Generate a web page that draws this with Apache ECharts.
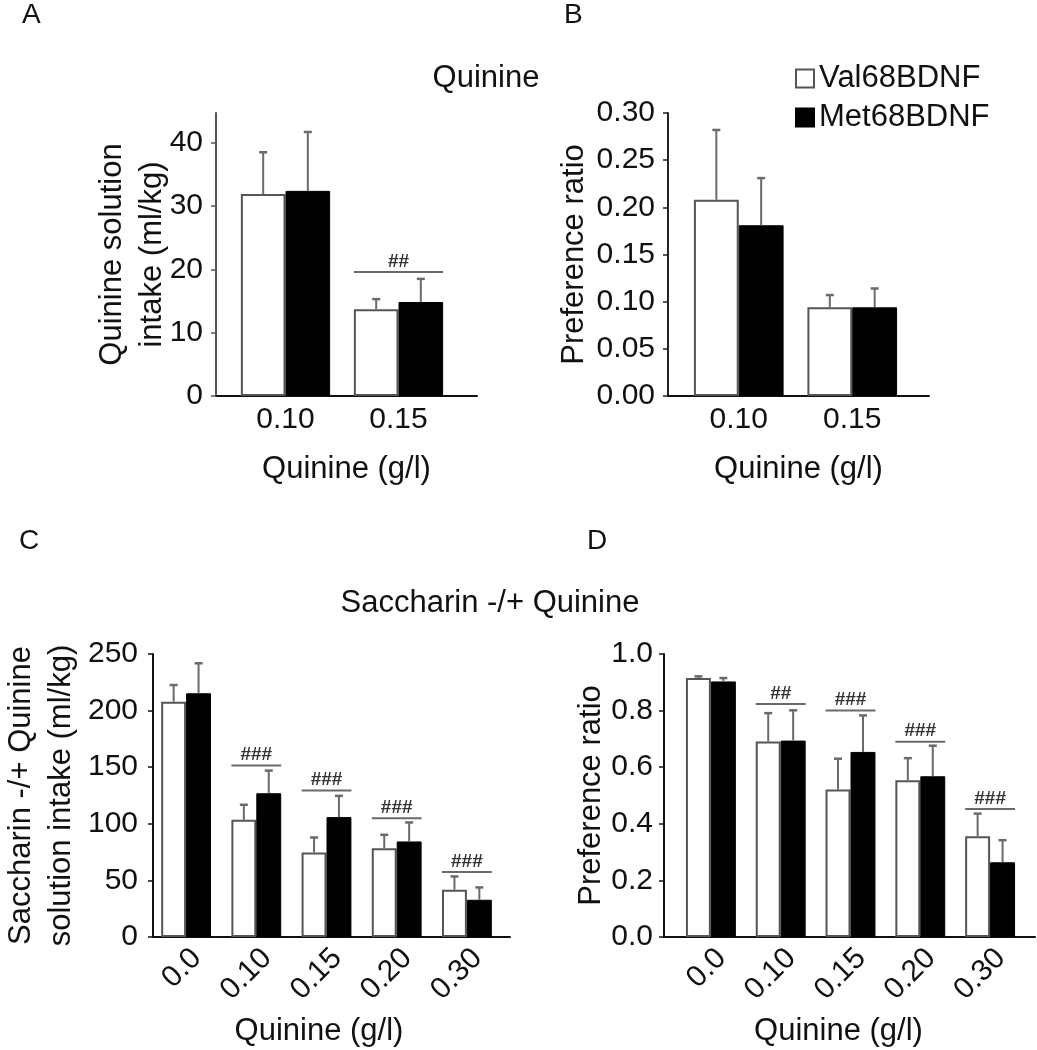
<!DOCTYPE html>
<html>
<head>
<meta charset="utf-8">
<script src="https://cdn.jsdelivr.net/npm/echarts@6/dist/echarts.min.js"></script>
<style>html,body{margin:0;padding:0;background:#fff}#c{width:1037px;height:1050px}</style>
</head>
<body>
<div id="c"></div>
<script>
// ---------- data ----------
const catsAB = ['0.10', '0.15'];
const catsCD = ['0.0', '0.10', '0.15', '0.20', '0.30'];
const seriesNames = ['Val68BDNF', 'Met68BDNF'];

// Panel A: Quinine solution intake (ml/kg)
const aVal = [31.9, 13.7];
const aValSem = [6.6, 1.6];
const aMet = [32.4, 14.85];
const aMetSem = [9.3, 3.65];
const aSigY = [[1, 19.6]];
const aSigLabels = ['##'];
const aTicks = [0, 10, 20, 30, 40];

// Panel B: Preference ratio
const bVal = [0.208, 0.094];
const bValSem = [0.074, 0.013];
const bMet = [0.181, 0.094];
const bMetSem = [0.050, 0.020];

// Panel C: Saccharin -/+ Quinine solution intake (ml/kg)
const cVal = [207.9, 103.5, 74.7, 78.5, 41.8];
const cValSem = [14.7, 13.3, 13.2, 11.8, 11.7];
const cMet = [215.3, 127.0, 105.9, 84.4, 32.9];
const cMetSem = [26.5, 20.0, 18.8, 16.8, 10.9];
const cSigY = [[1, 151.5], [2, 129.4], [3, 105.0], [4, 57.4]];
const cSigLabels = ['###', '###', '###', '###'];

// Panel D: Preference ratio
const dVal = [0.915, 0.691, 0.521, 0.554, 0.356];
const dValSem = [0.006, 0.100, 0.109, 0.078, 0.080];
const dMet = [0.903, 0.694, 0.654, 0.568, 0.264];
const dMetSem = [0.012, 0.107, 0.129, 0.108, 0.078];
const dSigY = [[1, 0.823], [2, 0.800], [3, 0.690], [4, 0.452]];
const dSigLabels = ['##', '###', '###', '###'];

// ---------- styling ----------
const FF = 'Liberation Sans, Arial, Helvetica, sans-serif';
const TXT = '#111';
const ERR = '#6a6a6a';

const chart = echarts.init(document.getElementById('c'), null, {renderer: 'canvas'});

function errRender(side, frac) {
  return function (params, api) {
    const ci = api.value(0), m = api.value(1), e = api.value(2);
    const p0 = api.coord([ci, m]);
    const p1 = api.coord([ci, m + e]);
    const band = api.size([1, 0])[0];
    const x = p0[0] + side * band * frac / 2;
    return {type: 'group', children: [
      {type: 'line', shape: {x1: x, y1: p0[1], x2: x, y2: p1[1]}, style: {stroke: ERR, lineWidth: 2}},
      {type: 'line', shape: {x1: x - 4, y1: p1[1], x2: x + 4, y2: p1[1]}, style: {stroke: ERR, lineWidth: 2.5}}
    ]};
  };
}
function sigRender(groupFrac, labels) {
  return function (params, api) {
    const ci = api.value(0), y = api.value(1);
    const p = api.coord([ci, y]);
    const band = api.size([1, 0])[0];
    const half = band * groupFrac / 2;
    return {type: 'group', children: [
      {type: 'line', shape: {x1: p[0] - half, y1: p[1], x2: p[0] + half, y2: p[1]}, style: {stroke: ERR, lineWidth: 2}},
      {type: 'text', x: p[0], y: p[1] - 1, style: {text: labels[params.dataIndex], align: 'center', verticalAlign: 'bottom', font: 'bold 19px ' + FF, fill: '#333'}}
    ]};
  };
}

// panels: frame grid + bar grid
const panels = [
  {frame: {left: 216, top: 113, width: 261, height: 283}, bars: {left: 229, width: 226}, cats: catsAB, gap: 0.21,
   min: 0, max: 44.7, interval: 10, ticks: aTicks, fmt: v => String(v),
   yName: 'Quinine solution\nintake (ml/kg)', yNameGap: 44, labelMargin: 13, axisColor: '#555',
   val: aVal, valSem: aValSem, met: aMet, metSem: aMetSem, sig: aSigY, sigLabels: aSigLabels,
   rotate: 0, xMargin: 9, xNameGap: 58, xNamePad: 0, vAlign: null},
  {frame: {left: 668, top: 113, width: 261, height: 283}, bars: {left: 682, width: 227}, cats: catsAB, gap: 0.21,
   min: 0, max: 0.30, interval: 0.05, ticks: null, fmt: v => v.toFixed(2),
   yName: 'Preference ratio', yNameGap: 74, labelMargin: 13, axisColor: '#222',
   val: bVal, valSem: bValSem, met: bMet, metSem: bMetSem, sig: [], sigLabels: [],
   rotate: 0, xMargin: 9, xNameGap: 58, xNamePad: 0, vAlign: null},
  {frame: {left: 140, top: 654, width: 370, height: 283}, bars: {left: 151, width: 351}, cats: catsCD, gap: 0.29,
   min: 0, max: 250, interval: 50, ticks: null, fmt: v => String(v),
   yName: 'Saccharin -/+ Quinine\nsolution intake (ml/kg)', yNameGap: 72, labelMargin: 15, axisColor: '#111',
   val: cVal, valSem: cValSem, met: cMet, metSem: cMetSem, sig: cSigY, sigLabels: cSigLabels,
   rotate: 45, xMargin: 6, xNameGap: 79, xNamePad: 25, vAlign: 'top'},
  {frame: {left: 664, top: 654, width: 371, height: 283}, bars: {left: 676, width: 349}, cats: catsCD, gap: 0.285,
   min: 0, max: 1.0, interval: 0.2, ticks: null, fmt: v => v.toFixed(1),
   yName: 'Preference ratio', yNameGap: 53, labelMargin: 11, axisColor: '#111',
   val: dVal, valSem: dValSem, met: dMet, metSem: dMetSem, sig: dSigY, sigLabels: dSigLabels,
   rotate: 45, xMargin: 6, xNameGap: 79, xNamePad: 22, vAlign: 'top'}
];

const grid = [], xAxis = [], yAxis = [], series = [];
panels.forEach((p, k) => {
  const gf = 2 * k, gb = 2 * k + 1;
  grid.push({left: p.frame.left, top: p.frame.top, width: p.frame.width, height: p.frame.height, containLabel: false});
  grid.push({left: p.bars.left, top: p.frame.top, width: p.bars.width, height: p.frame.height, containLabel: false});
  // frame x axis (line + name)
  xAxis.push({gridIndex: gf, type: 'value', min: 0, max: 1,
    axisLine: {show: true, lineStyle: {color: '#111', width: 2}}, axisTick: {show: false}, axisLabel: {show: false}, splitLine: {show: false},
    name: 'Quinine (g/l)', nameLocation: 'middle', nameGap: p.xNameGap, nameMoveOverlap: false,
    nameTextStyle: {fontFamily: FF, fontSize: 31, color: TXT, padding: [0, p.xNamePad, 0, 0]}});
  // bar x axis (category labels)
  const xl = {fontFamily: FF, fontSize: 30, color: TXT, margin: p.xMargin, rotate: p.rotate, interval: 0};
  if (p.vAlign) xl.verticalAlign = p.vAlign;
  xAxis.push({gridIndex: gb, type: 'category', data: p.cats,
    axisLine: {show: false}, axisTick: {show: false}, splitLine: {show: false}, axisLabel: xl});
  // frame y axis (visible)
  const ya = {gridIndex: gf, type: 'value', min: p.min, max: p.max, interval: p.interval,
    axisLine: {show: true, lineStyle: {color: p.axisColor, width: 2}},
    axisTick: {show: true, length: 5, lineStyle: {color: p.axisColor, width: 1.5}},
    axisLabel: {fontFamily: FF, fontSize: 30, color: TXT, margin: p.labelMargin, formatter: p.fmt},
    splitLine: {show: false},
    name: p.yName, nameLocation: 'middle', nameRotate: 90, nameGap: p.yNameGap, nameMoveOverlap: false,
    nameTextStyle: {fontFamily: FF, fontSize: 31, color: TXT, lineHeight: 40}};
  if (p.ticks) {
    ya.axisTick.customValues = p.ticks;
    ya.axisLabel.customValues = p.ticks;
  }
  yAxis.push(ya);
  yAxis.push({gridIndex: gb, type: 'value', min: p.min, max: p.max, interval: p.interval, show: false, splitLine: {show: false}});

  series.push({name: seriesNames[0], type: 'bar', xAxisIndex: gb, yAxisIndex: gb, data: p.val,
    barGap: '0%', barCategoryGap: (p.gap * 100) + '%', z: 2,
    itemStyle: {color: '#ffffff', borderColor: '#555', borderWidth: 2}});
  series.push({name: seriesNames[1], type: 'bar', xAxisIndex: gb, yAxisIndex: gb, data: p.met,
    barGap: '0%', barCategoryGap: (p.gap * 100) + '%', z: 2,
    itemStyle: {color: '#000000', borderColor: '#000', borderWidth: 1}});
  const frac = (1 - p.gap) / 2;
  series.push({type: 'custom', xAxisIndex: gb, yAxisIndex: gb, z: 3, silent: true,
    renderItem: errRender(-1, frac), data: p.cats.map((c, i) => [i, p.val[i], p.valSem[i]])});
  series.push({type: 'custom', xAxisIndex: gb, yAxisIndex: gb, z: 3, silent: true,
    renderItem: errRender(1, frac), data: p.cats.map((c, i) => [i, p.met[i], p.metSem[i]])});
  if (p.sig.length) {
    series.push({type: 'custom', xAxisIndex: gb, yAxisIndex: gb, z: 4, silent: true,
      renderItem: sigRender(1 - p.gap, p.sigLabels), data: p.sig});
  }
});

const textEl = (t, x, y, size, align) => ({type: 'text', x: x, y: y,
  style: {text: t, font: size + 'px ' + FF, fill: TXT, align: align || 'left', verticalAlign: 'middle'}});

chart.setOption({
  animation: false,
  backgroundColor: '#fff',
  grid: grid, xAxis: xAxis, yAxis: yAxis, series: series,
  legend: {data: seriesNames, orient: 'vertical', left: 790, top: 58, itemWidth: 18, itemHeight: 18, itemGap: 8,
    icon: 'rect', selectedMode: false, textStyle: {fontFamily: FF, fontSize: 31, color: TXT}},
  graphic: [
    textEl('A', 22, 15, 28), textEl('B', 564, 15, 28), textEl('C', 19, 541, 28), textEl('D', 587, 541, 28),
    textEl('Quinine', 486, 78, 31, 'center'),
    textEl('Saccharin -/+ Quinine', 490, 603, 31, 'center')
  ]
});
</script>
</body>
</html>
